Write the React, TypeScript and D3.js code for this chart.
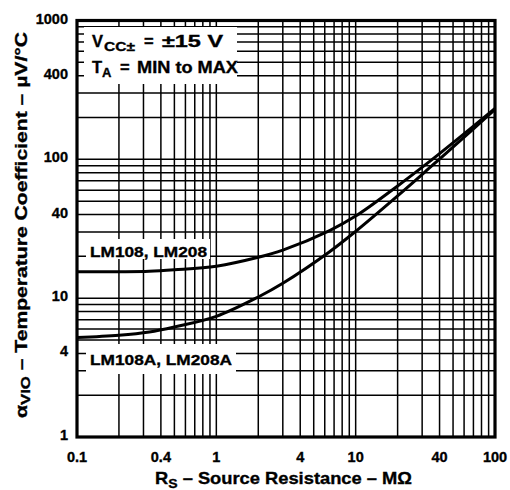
import React from "react";
import * as d3 from "d3";

// ---- data ----
const xTickLabels = [0.1, 0.4, 1, 4, 10, 40, 100];
const yTickLabels = [1000, 400, 100, 40, 10, 4, 1];
const sourceResistance = [0.1, 0.2, 0.33, 0.5, 1, 2, 3, 6.5, 10, 20, 34, 53, 100];
const lm108 = [15.5, 15.5, 15.6, 16, 17, 19.7, 22.2, 30.7, 39, 64.3, 96.6, 138, 233];
const lm108a = [5.2, 5.4, 5.7, 6.2, 7.4, 10.2, 12.8, 21.6, 30.3, 54.6, 87, 129, 229];
const decadeStarts = [0.1, 1, 10];
const yDecadeStarts = [1, 10, 100];
const mantissas = [1, 2, 3, 4, 5, 6, 7, 8, 9];

const W = 510;
const H = 490;
const FONT = "'Liberation Sans', Arial, Helvetica, sans-serif";

export default function App() {
  const x = d3.scaleLog().domain([0.1, 100]).range([77, 495]);
  const y = d3.scaleLog().domain([1, 1000]).range([437, 20.5]);

  const xGrid = decadeStarts.flatMap((d) => mantissas.map((m) => d * m)).concat([100]);
  const yGrid = yDecadeStarts.flatMap((d) => mantissas.map((m) => d * m)).concat([1000]);

  const line = d3
    .line<number>()
    .x((_, i) => x(sourceResistance[i]))
    .y((v) => y(v))
    .curve(d3.curveCatmullRom.alpha(0.5));

  const [x0, x1] = x.range();
  const [y0, y1] = y.range();
  const pre = { whiteSpace: "pre" as const };

  return (
    <svg
      width={W}
      height={H}
      style={{ position: "absolute", left: 0, top: 0, background: "#fff" }}
      fontFamily={FONT}
      fontWeight="bold"
    >
      <rect x={0} y={0} width={W} height={H} fill="#fff" />
      {/* grid */}
      <g stroke="#000" strokeWidth={1.5}>
        {xGrid.map((v) => (
          <line key={"vx" + v} x1={x(v)} x2={x(v)} y1={y1} y2={y0} />
        ))}
        {yGrid.map((v) => (
          <line key={"hy" + v} x1={x0} x2={x1} y1={y(v)} y2={y(v)} />
        ))}
      </g>
      {/* white backgrounds for annotations */}
      <rect x={84} y={27} width={153} height={57} fill="#fff" />
      <rect x={86} y={239} width={124} height={20} fill="#fff" />
      <rect x={86} y={344} width={150} height={30} fill="#fff" />

      {/* curves */}
      <path d={line(lm108) || ""} fill="none" stroke="#000" strokeWidth={3} />
      <path d={line(lm108a) || ""} fill="none" stroke="#000" strokeWidth={3} />

      {/* frame */}
      <rect x={x0} y={y1} width={x1 - x0} height={y0 - y1} fill="none" stroke="#000" strokeWidth={3.2} />

      <g stroke="#000" strokeWidth={0.35}>
        {/* annotation text */}
        <text x={92} y={47} fontSize={16.5}>V</text>
        <text x={104} y={51} fontSize={13} textLength={31} lengthAdjust="spacingAndGlyphs">CC±</text>
        <text x={144} y={47} fontSize={16.5}>=</text>
        <text x={162} y={47} fontSize={16.5} textLength={61} lengthAdjust="spacingAndGlyphs" style={pre}>±15 V</text>
        <text x={92} y={73} fontSize={16.5}>T</text>
        <text x={102} y={77} fontSize={13}>A</text>
        <text x={120} y={73} fontSize={16.5}>=</text>
        <text x={137} y={73} fontSize={16.5} textLength={101} lengthAdjust="spacingAndGlyphs" style={pre}>MIN to MAX</text>

        <text x={90} y={257} fontSize={15} textLength={117} lengthAdjust="spacingAndGlyphs">LM108, LM208</text>
        <text x={90} y={365} fontSize={15} textLength={142} lengthAdjust="spacingAndGlyphs">LM108A, LM208A</text>

        {/* y tick labels */}
        {yTickLabels.map((v) => (
          <text key={"yl" + v} x={68} y={y(v) - 2} fontSize={14.5} textAnchor="end" dominantBaseline="central">
            {v}
          </text>
        ))}
        {/* x tick labels */}
        {xTickLabels.map((v) => (
          <text key={"xl" + v} x={x(v)} y={462} fontSize={14.5} textAnchor="middle">
            {v}
          </text>
        ))}

        {/* axis titles */}
        <text x={155} y={484} fontSize={17} textLength={257} lengthAdjust="spacingAndGlyphs" style={pre}>
          R<tspan fontSize={13} dy={4}>S</tspan>
          <tspan dy={-4}>{" – Source Resistance – MΩ"}</tspan>
        </text>
        <text
          transform="translate(27,418) rotate(-90)"
          fontSize={17}
          textLength={386}
          lengthAdjust="spacingAndGlyphs"
          style={pre}
        >
          α<tspan fontSize={13.5} dy={3}>VIO</tspan>
          <tspan dy={-3}>{" – Temperature Coefficient – µV/°C"}</tspan>
        </text>
      </g>
    </svg>
  );
}
